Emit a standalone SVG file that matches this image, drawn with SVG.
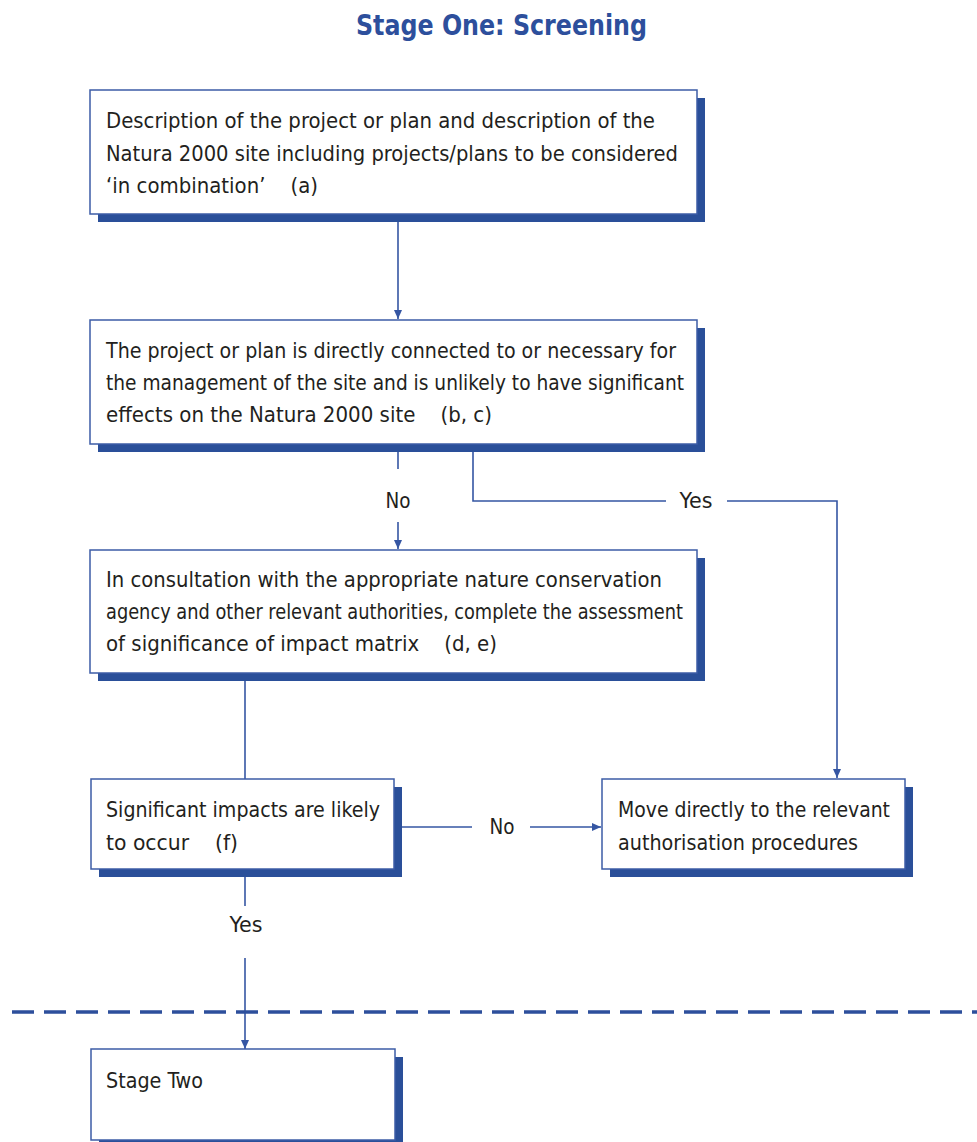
<svg xmlns="http://www.w3.org/2000/svg" width="977" height="1142" viewBox="0 0 977 1142">
<style>
.sh{fill:#2a4f99}
.bx{fill:#fff;stroke:#3c5ca6;stroke-width:1.5}
.t{font-family:"DejaVu Sans Condensed","Liberation Sans",Arial,sans-serif;font-stretch:condensed;font-size:21.5px;fill:#231f20}
.lb{font-family:"DejaVu Sans Condensed","Liberation Sans",Arial,sans-serif;font-stretch:condensed;font-size:21.5px;fill:#231f20;text-anchor:middle}
.c{fill:none;stroke:#3556a3;stroke-width:1.6}
</style>
<defs>
<marker id="ah" markerWidth="10" markerHeight="10" refX="9" refY="5" orient="auto" markerUnits="userSpaceOnUse">
<path d="M0,1 L9,5 L0,9 Z" fill="#3556a3"/>
</marker>
</defs>
<rect width="977" height="1142" fill="#fff"/>
<text x="356" y="35" textLength="291" lengthAdjust="spacingAndGlyphs" style="font-family:'DejaVu Sans Condensed','Liberation Sans',Arial,sans-serif;font-stretch:condensed;font-size:28px;font-weight:bold;fill:#2d4f9c">Stage One: Screening</text>

<g id="connectors">
<line class="c" x1="398" y1="222" x2="398" y2="319" marker-end="url(#ah)"/>
<line class="c" x1="398" y1="452" x2="398" y2="469"/>
<line class="c" x1="398" y1="522" x2="398" y2="549" marker-end="url(#ah)"/>
<text class="lb" x="398" y="508" textLength="25" lengthAdjust="spacingAndGlyphs">No</text>
<polyline class="c" points="473,452 473,501 666,501"/>
<polyline class="c" points="727,501 837,501 837,778" marker-end="url(#ah)"/>
<text class="lb" x="696" y="508" textLength="33" lengthAdjust="spacingAndGlyphs">Yes</text>
<line class="c" x1="245" y1="681" x2="245" y2="779"/>
<line class="c" x1="402" y1="827" x2="472" y2="827"/>
<line class="c" x1="530" y1="827" x2="601" y2="827" marker-end="url(#ah)"/>
<text class="lb" x="502" y="834" textLength="25" lengthAdjust="spacingAndGlyphs">No</text>
<line class="c" x1="245" y1="877" x2="245" y2="906"/>
<line class="c" x1="245" y1="958" x2="245" y2="1049" marker-end="url(#ah)"/>
<text class="lb" x="246" y="932" textLength="33" lengthAdjust="spacingAndGlyphs">Yes</text>
<line x1="12" y1="1012" x2="977" y2="1012" stroke="#2d4f9c" stroke-width="3.5" stroke-dasharray="22 10"/>
</g>

<g id="n1">
<rect class="sh" x="98" y="98" width="607" height="124"/>
<rect class="bx" x="90" y="90" width="607" height="124"/>
<text class="t" x="106" y="128" textLength="549" lengthAdjust="spacingAndGlyphs">Description of the project or plan and description of the</text>
<text class="t" x="106" y="161" textLength="572" lengthAdjust="spacingAndGlyphs">Natura 2000 site including projects/plans to be considered</text>
<text class="t" x="106" y="193" textLength="212" lengthAdjust="spacingAndGlyphs" xml:space="preserve">‘in combination’    (a)</text>
</g>

<g id="n2">
<rect class="sh" x="98" y="328" width="607" height="124"/>
<rect class="bx" x="90" y="320" width="607" height="124"/>
<text class="t" x="106" y="358" textLength="570" lengthAdjust="spacingAndGlyphs">The project or plan is directly connected to or necessary for</text>
<text class="t" x="106" y="390" textLength="578" lengthAdjust="spacingAndGlyphs">the management of the site and is unlikely to have significant</text>
<text class="t" x="106" y="422" textLength="386" lengthAdjust="spacingAndGlyphs" xml:space="preserve">effects on the Natura 2000 site    (b, c)</text>
</g>

<g id="n3">
<rect class="sh" x="98" y="558" width="607" height="123"/>
<rect class="bx" x="90" y="550" width="607" height="123"/>
<text class="t" x="106" y="587" textLength="556" lengthAdjust="spacingAndGlyphs">In consultation with the appropriate nature conservation</text>
<text class="t" x="106" y="619" textLength="577" lengthAdjust="spacingAndGlyphs">agency and other relevant authorities, complete the assessment</text>
<text class="t" x="106" y="651" textLength="391" lengthAdjust="spacingAndGlyphs" xml:space="preserve">of significance of impact matrix    (d, e)</text>
</g>

<g id="n4">
<rect class="sh" x="99" y="787" width="303" height="90"/>
<rect class="bx" x="91" y="779" width="303" height="90"/>
<text class="t" x="106" y="817" textLength="274" lengthAdjust="spacingAndGlyphs">Significant impacts are likely</text>
<text class="t" x="106" y="850" textLength="132" lengthAdjust="spacingAndGlyphs" xml:space="preserve">to occur    (f)</text>
</g>

<g id="n5">
<rect class="sh" x="610" y="787" width="303" height="90"/>
<rect class="bx" x="602" y="779" width="303" height="90"/>
<text class="t" x="618" y="817" textLength="272" lengthAdjust="spacingAndGlyphs">Move directly to the relevant</text>
<text class="t" x="618" y="850" textLength="240" lengthAdjust="spacingAndGlyphs">authorisation procedures</text>
</g>

<g id="n6">
<rect class="sh" x="99" y="1057" width="304" height="100"/>
<rect class="bx" x="91" y="1049" width="304" height="91"/>
<text class="t" x="106" y="1088" textLength="97" lengthAdjust="spacingAndGlyphs">Stage Two</text>
</g>
</svg>
